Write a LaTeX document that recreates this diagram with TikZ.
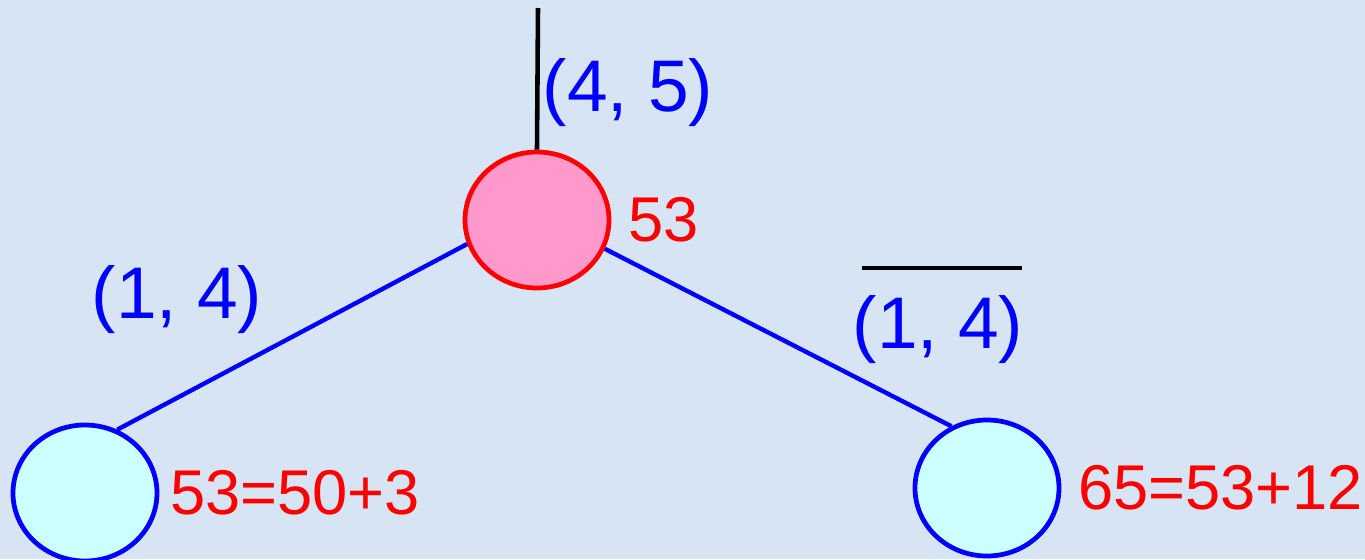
\documentclass[tikz,border=0pt]{standalone}
\usepackage{fontspec}
\setmainfont{Liberation Sans}
\usetikzlibrary{positioning,shapes.geometric}

\definecolor{bgblue}{RGB}{214,228,243}
\definecolor{rootpink}{RGB}{255,153,204}
\definecolor{leafcyan}{RGB}{204,255,255}

\begin{document}
\begin{tikzpicture}[
	vertex/.style={draw, ellipse, line width=1.35pt, minimum width=1.44cm, minimum height=1.36cm, inner sep=0pt},
	pair/.style={text=blue, inner sep=0pt, font=\fontsize{20.8}{24}\selectfont},
	cost/.style={text=red, inner sep=0pt, font=\fontsize{18}{21}\selectfont},
	edge/.style={draw=blue, line width=1.25pt}]
	\fill[bgblue] (0,0) rectangle (13.65,5.59);
	\useasboundingbox (0,0) rectangle (13.65,5.59);
	\node[vertex, draw=red, fill=rootpink] (R) at (5.37,3.39) {};
	\node[vertex, draw=blue, fill=leafcyan] (L) at (0.85,0.66) {};
	\node[vertex, draw=blue, fill=leafcyan] (Q) at (9.87,0.71) {};
	\coordinate (top) at (5.38,5.51);
	\coordinate (barl) at (8.62,2.91);
	\coordinate (barr) at (10.22,2.91);
	\node[pair] (P45) at (6.28,4.66) {(4, 5)};
	\node[pair] (P14l) at (1.77,2.59) {(1, 4)};
	\node[pair] (P14r) at (9.38,2.29) {(1, 4)};
	\node[cost, right=0.16 of R] (cR) {53};
	\node[cost, right=0.10 of L] (cL) {53=50+3};
	\node[cost, right=0.16 of Q] (cQ) {65=53+12};
	\draw[line width=1.3pt] (top) -- (R.north);
	\draw[line width=1.3pt] (barl) -- (barr);
	\draw[edge] (R.199) -- (L.63);
	\draw[edge] (R.337) -- (Q.120);
\end{tikzpicture}
\end{document}
